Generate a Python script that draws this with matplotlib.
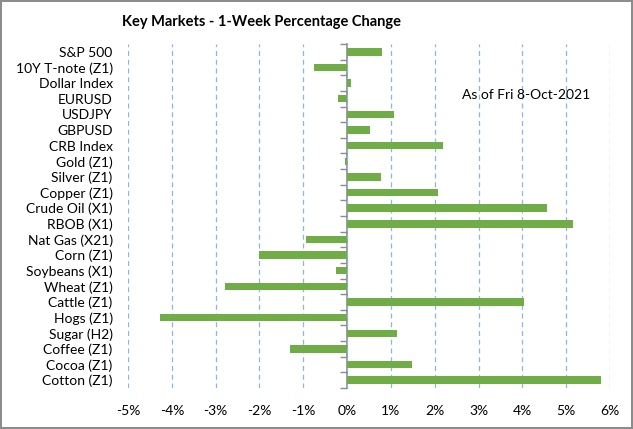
import numpy as np
import matplotlib.pyplot as plt
from matplotlib.ticker import FixedLocator, PercentFormatter

plt.rcParams['font.family'] = ['Lato', 'DejaVu Sans']
plt.rcParams['axes.unicode_minus'] = False

# 1-week percentage change, as of Fri 8-Oct-2021
markets = ['S&P 500', '10Y T-note (Z1)', 'Dollar Index', 'EURUSD', 'USDJPY',
           'GBPUSD', 'CRB Index', 'Gold (Z1)', 'Silver (Z1)', 'Copper (Z1)',
           'Crude Oil (X1)', 'RBOB (X1)', 'Nat Gas (X21)', 'Corn (Z1)',
           'Soybeans (X1)', 'Wheat (Z1)', 'Cattle (Z1)', 'Hogs (Z1)',
           'Sugar (H2)', 'Coffee (Z1)', 'Cocoa (Z1)', 'Cotton (Z1)']
pct_change = [0.79, -0.76, 0.08, -0.20, 1.08,
              0.52, 2.20, -0.05, 0.77, 2.08,
              4.56, 5.15, -0.94, -2.00,
              -0.26, -2.78, 4.04, -4.28,
              1.15, -1.30, 1.49, 5.79]
x_ticks = list(range(-5, 7))

fig = plt.figure(figsize=(6.33, 4.29), dpi=100)
fig.patch.set_edgecolor('#8c8c8c')
fig.patch.set_linewidth(1.5)
ax = fig.add_axes([128 / 633, 1 - 388 / 429, 482 / 633, 344 / 429])

y = np.arange(len(markets))
ax.barh(y, pct_change, height=0.48, color='#70ad47', zorder=3)

ax.set_xlim(-5, 6)
ax.set_ylim(len(markets) - 0.5, -0.5)
ax.set_xticks(x_ticks)
ax.xaxis.set_major_formatter(PercentFormatter(decimals=0))
ax.set_yticks(y)
ax.set_yticklabels(markets)
ax.tick_params(axis='both', length=0, labelsize=10, colors='black')
ax.tick_params(axis='x', pad=12)
ax.tick_params(axis='y', pad=11)

for s in ax.spines.values():
    s.set_visible(False)
ax.grid(axis='x', color='#8fb6e0', linestyle=(0, (4, 3)), linewidth=0.9, zorder=0)

# category axis through 0% with tick marks between categories
sec = ax.secondary_yaxis(5 / 11)
sec.spines['left'].set_color('#8c8c8c')
sec.spines['left'].set_linewidth(1.2)
sec.yaxis.set_major_locator(FixedLocator(np.arange(-0.5, len(markets), 1.0)))
sec.tick_params(axis='y', length=5, width=1, color='#8c8c8c', labelleft=False)

fig.text(462 / 633, 1 - 95 / 429, 'As of Fri 8-Oct-2021',
         fontsize=10, va='center', ha='left')
fig.text(261 / 633, 1 - 22 / 429, 'Key Markets - 1-Week Percentage Change',
         fontsize=10.5, fontweight='bold', ha='center', va='center')

fig.savefig('out.png', dpi=100)
